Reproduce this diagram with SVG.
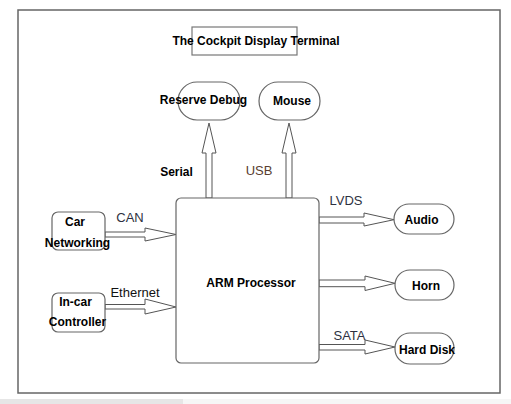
<svg xmlns="http://www.w3.org/2000/svg" width="511" height="404" viewBox="0 0 511 404">
<style>
.node{fill:#fff;stroke:#666;stroke-width:1.2}
.arr{fill:#fff;stroke:#555;stroke-width:1}
.t{font-family:"Liberation Sans",Arial,sans-serif;font-size:12px;font-weight:bold;fill:#000;text-anchor:middle}
.l{font-family:"Liberation Sans",Arial,sans-serif;font-size:13px;fill:#2e3140;text-anchor:middle}
</style>
<rect x="0" y="0" width="511" height="404" fill="#fff"/>
<rect x="0" y="399" width="511" height="5" fill="#f6f6f6"/>
<rect x="0" y="399" width="183" height="5" fill="#e6e6e6"/>
<rect x="18" y="10" width="482" height="383" fill="none" stroke="#666" stroke-width="1.5"/>
<g id="title">
<rect x="192" y="27" width="105" height="28" fill="#fff" stroke="#777" stroke-width="1.2"/>
<text class="t" x="256" y="45">The Cockpit Display Terminal</text>
</g>
<g id="connectors">
<polygon class="arr" points="206,198 206,153 202,153 209,123 216,153 212,153 212,198"/>
<polygon class="arr" points="286,198 286,153 282,153 289,123 296,153 292,153 292,198"/>
<polygon class="arr" points="105,232 145,232 145,228 176,234.5 145,241 145,237 105,237"/>
<polygon class="arr" points="105,304.5 145,304.5 145,299 176,307 145,314 145,309 105,309"/>
<polygon class="arr" points="319,217 364,217 364,213 394,219.7 364,226 364,223 319,223"/>
<polygon class="arr" points="319,280 365,280 365,276 395,283.3 365,290.5 365,286.7 319,286.7"/>
<polygon class="arr" points="319,344.5 365,344.5 365,340 395,347 365,354 365,350 319,350"/>
<text class="t" x="176.5" y="176">Serial</text>
<text class="l" x="259" y="174.5" style="fill:#5a4030">USB</text>
<text class="l" x="130" y="221.5">CAN</text>
<text class="l" x="135" y="296.5" style="fill:#111">Ethernet</text>
<text class="l" x="346" y="204.5">LVDS</text>
<text class="l" x="349.5" y="339.5">SATA</text>
</g>
<g id="reserve-debug">
<rect class="node" x="178" y="82" width="62" height="38" rx="19" ry="19"/>
<text class="t" x="203.5" y="104">Reserve Debug</text>
</g>
<g id="mouse">
<rect class="node" x="259" y="82" width="61" height="38" rx="19" ry="19"/>
<text class="t" x="292" y="105">Mouse</text>
</g>
<g id="arm">
<rect class="node" x="176" y="198" width="143" height="165" rx="5" ry="5"/>
<text class="t" x="251" y="287">ARM Processor</text>
</g>
<g id="car-networking">
<rect class="node" x="52" y="212" width="53" height="38" rx="6" ry="6"/>
<text class="t" x="75" y="226">Car</text>
<text class="t" x="77.5" y="247">Networking</text>
</g>
<g id="in-car-controller">
<rect class="node" x="52" y="293" width="53" height="39" rx="6" ry="6"/>
<text class="t" x="75.5" y="306">In-car</text>
<text class="t" x="77.5" y="326">Controller</text>
</g>
<g id="audio">
<rect class="node" x="394" y="204" width="60" height="30" rx="15" ry="15"/>
<text class="t" x="421.5" y="224">Audio</text>
</g>
<g id="horn">
<rect class="node" x="395" y="270" width="59" height="30" rx="15" ry="15"/>
<text class="t" x="426" y="290">Horn</text>
</g>
<g id="hard-disk">
<rect class="node" x="395" y="333" width="59" height="31" rx="15" ry="15"/>
<text class="t" x="427" y="354">Hard Disk</text>
</g>
</svg>
